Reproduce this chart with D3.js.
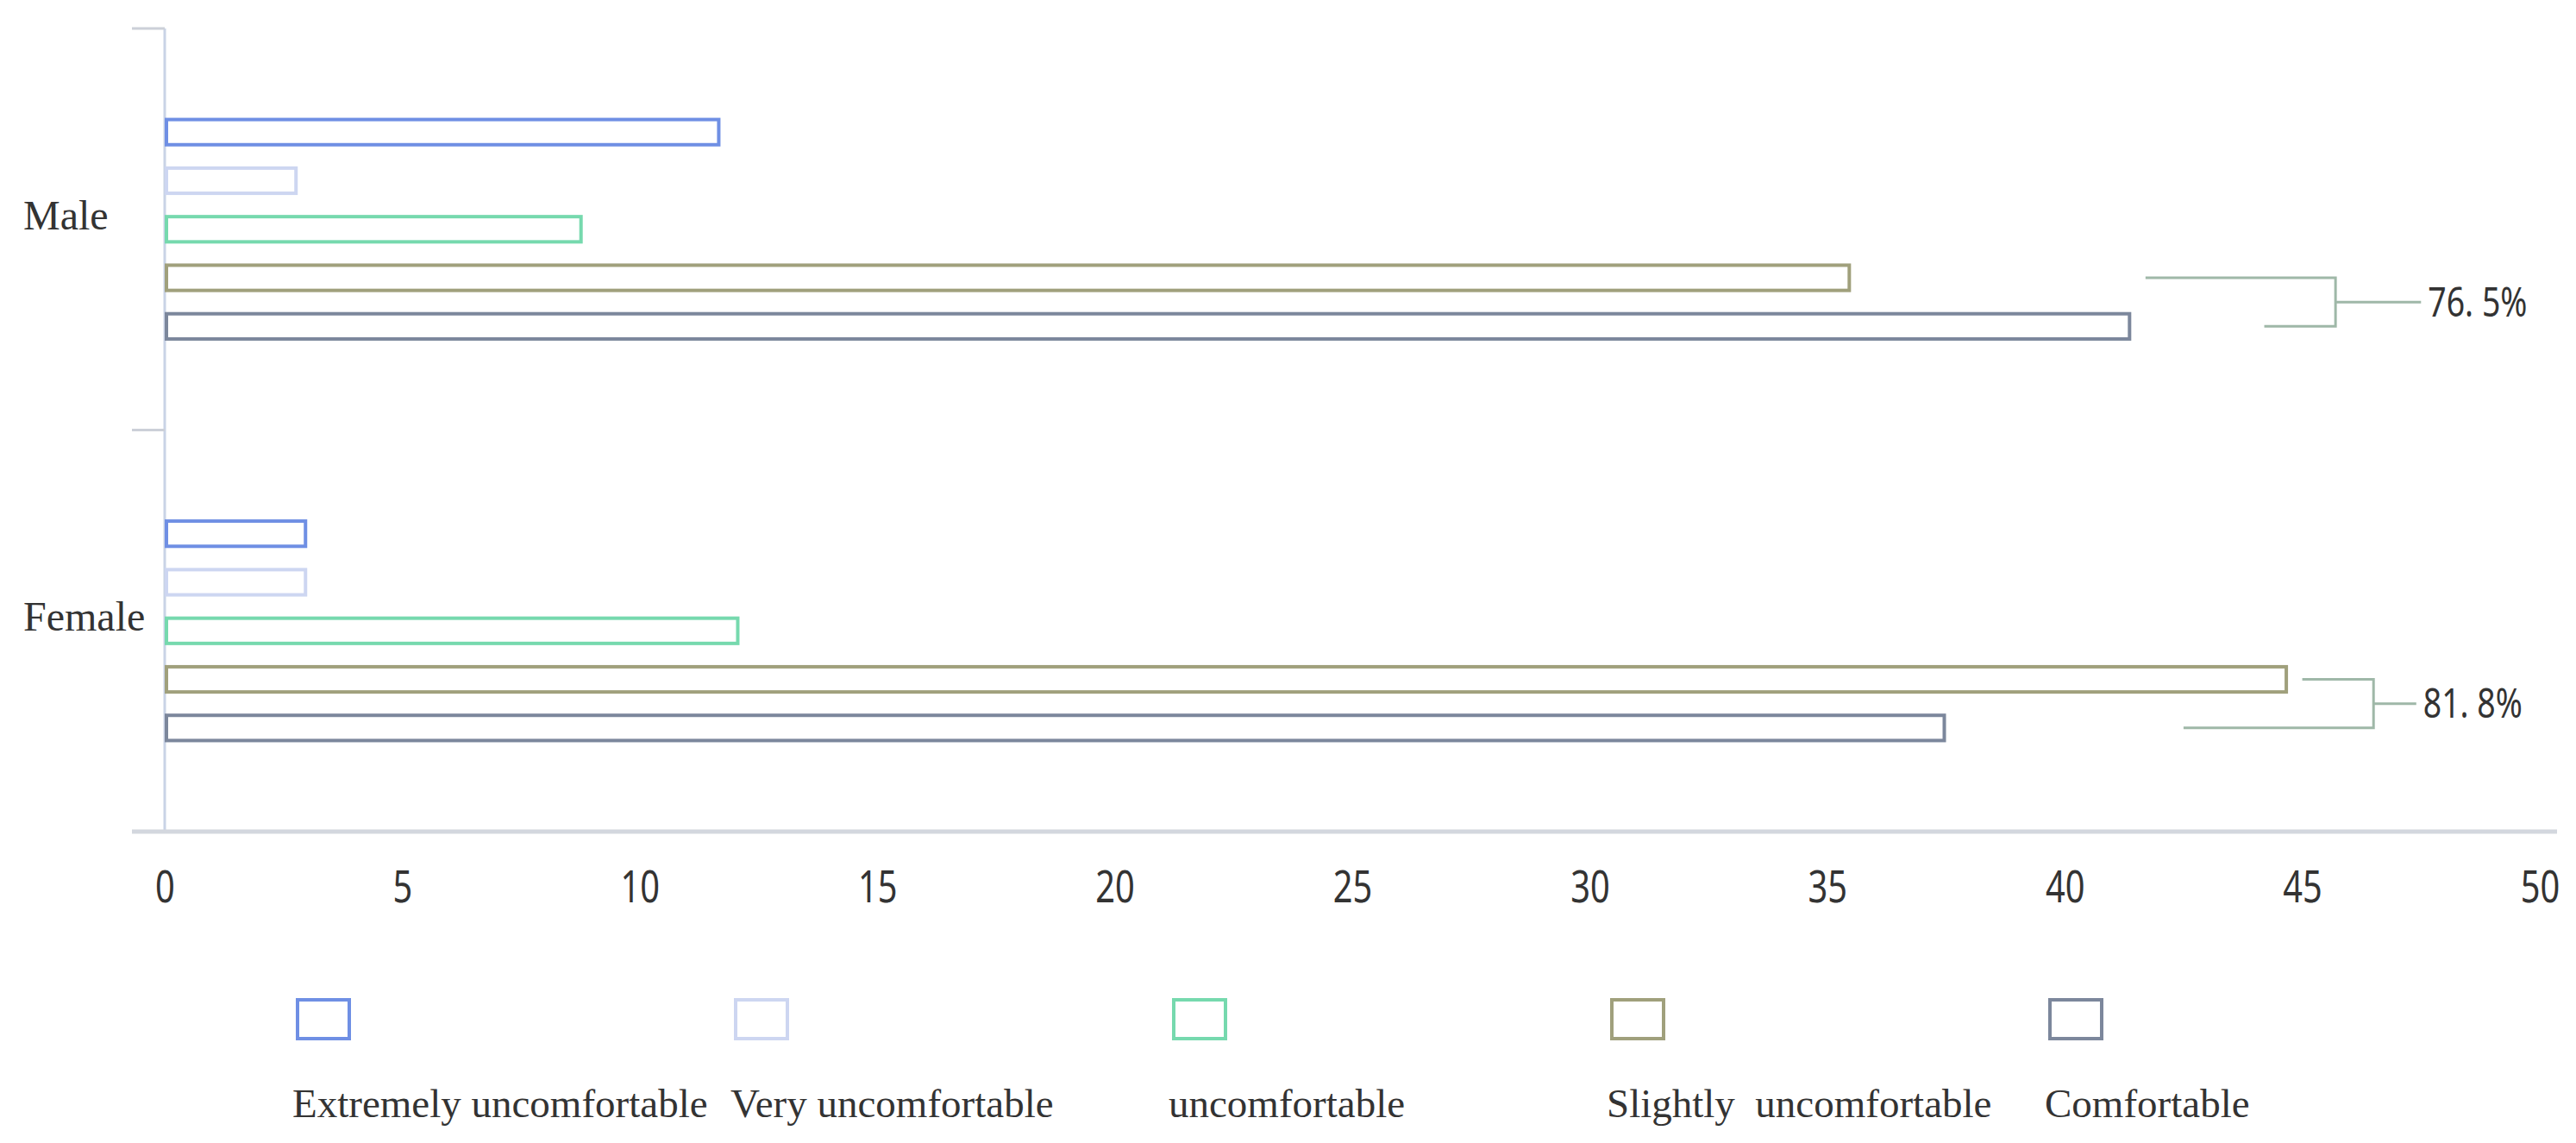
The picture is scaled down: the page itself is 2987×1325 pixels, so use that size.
<!DOCTYPE html>
<html>
<head>
<meta charset="utf-8">
<script src="https://cdn.jsdelivr.net/npm/d3@7"></script>
<style>
	body { margin: 0; background: #fff; }
	svg { display: block; }
	.serif { font-family: 'Liberation Serif', 'Times New Roman', serif; fill: #333; }
	.narrow { font-family: 'Noto Sans', 'DejaVu Sans', sans-serif; fill: #333; }
</style>
</head>
<body>
<svg id="chart" width="2987" height="1325"></svg>
<script>
var groups = ['Male', 'Female'];
var levels = ['Extremely uncomfortable', 'Very uncomfortable', 'uncomfortable', 'Slightly  uncomfortable', 'Comfortable'];
var maleValues = [11.7, 2.8, 8.8, 35.5, 41.4];
var femaleValues = [3.0, 3.0, 12.1, 44.7, 37.5];
var xTicks = [0, 5, 10, 15, 20, 25, 30, 35, 40, 45, 50];
var colors = ['#6f8fe4', '#cdd6f1', '#76d9ae', '#a0a07c', '#7c879c'];

// bracket notes: which group, start of upper / lower arm, joint and end (in axis units)
var notes = [
	{group: 'Male', label: '76. 5%', upper: 41.7, lower: 44.2, joint: 45.7, end: 47.5},
	{group: 'Female', label: '81. 8%', upper: 45.0, lower: 42.5, joint: 46.5, end: 47.4}
];

var values = {Male: maleValues, Female: femaleValues};

var svg = d3.select('#chart');

var x = d3.scaleLinear().domain([0, 50]).range([191, 2945]);
var y0 = d3.scaleBand().domain(groups).range([33, 964]);
var y1 = d3.scaleBand().domain(levels).range([0, y0.bandwidth()])
	.paddingInner(0.41).paddingOuter(1.84);

// y axis line and group separators
svg.append('line')
	.attr('x1', x(0)).attr('x2', x(0))
	.attr('y1', y0.range()[0]).attr('y2', y0.range()[1])
	.style('stroke', '#c9d3e6').style('stroke-width', 3);

svg.selectAll('.ytick')
	.data(groups)
	.enter()
	.append('line')
	.attr('class', 'ytick')
	.attr('x1', x(0) - 38).attr('x2', x(0))
	.attr('y1', function(d) { return y0(d); })
	.attr('y2', function(d) { return y0(d); })
	.style('stroke', '#ccd0d8').style('stroke-width', 3);

// x axis
svg.append('line')
	.attr('x1', x(0) - 38).attr('x2', x(50) + 20)
	.attr('y1', y0.range()[1]).attr('y2', y0.range()[1])
	.style('stroke', '#d3d7de').style('stroke-width', 5);

var xAxis = svg.append('g')
	.attr('transform', 'translate(0,' + y0.range()[1] + ')')
	.call(d3.axisBottom(x).tickValues(xTicks).tickSize(0));
xAxis.select('.domain').remove();
xAxis.selectAll('text')
	.attr('class', 'narrow')
	.attr('y', 64)
	.attr('dy', '0.35em')
	.attr('transform', 'scale(0.78,1)')
	.style('font-size', '51px')
	.style('fill', '#333');

// category labels
svg.selectAll('.glabel')
	.data(groups)
	.enter()
	.append('text')
	.attr('class', 'serif')
	.attr('x', 27)
	.attr('y', function(d) { return y0(d) + y0.bandwidth() / 2; })
	.style('font-size', '48px')
	.text(function(d) { return d; });

// bars
var gGroups = svg.selectAll('.group')
	.data(groups)
	.enter()
	.append('g')
	.attr('class', 'group')
	.attr('transform', function(d) { return 'translate(0,' + y0(d) + ')'; });

gGroups.selectAll('rect')
	.data(function(g) { return levels.map(function(l, i) { return {level: l, value: values[g][i], i: i}; }); })
	.enter()
	.append('rect')
	.attr('x', x(0) + 2)
	.attr('y', function(d) { return y1(d.level) + 2; })
	.attr('width', function(d) { return x(d.value) - x(0) - 4; })
	.attr('height', y1.bandwidth() - 4)
	.style('fill', '#fff')
	.style('stroke', function(d) { return colors[d.i]; })
	.style('stroke-width', 4);

// brackets
var yCenter = function(g, l) { return y0(g) + y1(l) + y1.bandwidth() / 2; };
notes.forEach(function(n) {
	var yu = yCenter(n.group, levels[3]),
		yl = yCenter(n.group, levels[4]),
		ym = (yu + yl) / 2;
	var path = d3.path();
	path.moveTo(x(n.upper), yu);
	path.lineTo(x(n.joint), yu);
	path.lineTo(x(n.joint), yl);
	path.lineTo(x(n.lower), yl);
	path.moveTo(x(n.joint), ym);
	path.lineTo(x(n.end), ym);
	svg.append('path')
		.attr('d', path.toString())
		.style('fill', 'none')
		.style('stroke', '#9fb8a8')
		.style('stroke-width', 3);
	svg.append('text')
		.attr('class', 'narrow')
		.attr('transform', 'translate(' + (x(n.end) + 8) + ',' + ym + ') scale(0.78,1)')
		.attr('dy', '0.35em')
		.style('font-size', '48px')
		.text(n.label);
});

// legend
var legend = svg.selectAll('.legend')
	.data(levels)
	.enter()
	.append('g')
	.attr('class', 'legend')
	.attr('transform', function(d, i) { return 'translate(' + (343 + i * 508) + ',1157)'; });

legend.append('rect')
	.attr('x', 2).attr('y', 2)
	.attr('width', 60).attr('height', 45)
	.style('fill', '#fff')
	.style('stroke', function(d, i) { return colors[i]; })
	.style('stroke-width', 4);

legend.append('text')
	.attr('class', 'serif')
	.attr('x', -4)
	.attr('y', 138)
	.style('font-size', '47px')
	.style('white-space', 'pre')
	.text(function(d) { return d; });
</script>
</body>
</html>
